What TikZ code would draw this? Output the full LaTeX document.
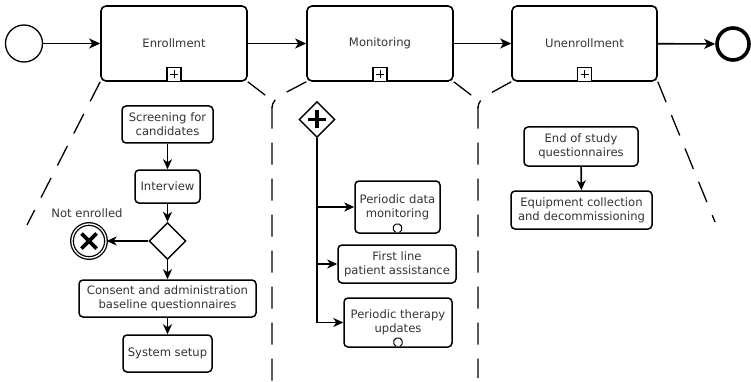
\documentclass[tikz,border=0pt]{standalone}
\usepackage{fontspec}
\setmainfont{DejaVu Sans}
\usetikzlibrary{arrows.meta,shapes.geometric}
\begin{document}
\begin{tikzpicture}[x=1pt,y=-1pt,
  txt/.style={font=\fontsize{11.6}{14}\selectfont, text=black!80},
  bigtask/.style={draw, line width=1.6pt, rounded corners=5pt, minimum width=146pt, minimum height=75pt, inner sep=0pt, txt},
  task/.style={draw, line width=1.5pt, rounded corners=4pt, align=center, inner sep=0pt, txt},
  marker/.style={draw, line width=1.1pt, minimum size=14pt, inner sep=0pt, anchor=south, fill=white},
  flow/.style={line width=1.6pt, -{Stealth[length=11pt,width=10pt,inset=3pt]}},
  sflow/.style={line width=1.6pt, -{Stealth[length=10pt,width=9pt,inset=3pt]}},
  expand/.style={line width=1.3pt, dash pattern=on 22pt off 14pt},
  thickcross/.style={line width=3.8pt},
]
\useasboundingbox (0,0) rectangle (751,382);

% top level process
\node[circle, draw, line width=1.3pt, minimum size=37pt, inner sep=0pt] (start) at (24,43.5) {};
\node[bigtask] (enr) at (174,43.5) {Enrollment};
\node[bigtask] (mon) at (380,43.5) {Monitoring};
\node[bigtask, minimum width=145pt] (unen) at (584.5,43.5) {Unenrollment};
\node[circle, draw, line width=3.6pt, minimum size=32pt, inner sep=0pt] (end) at (733,44) {};

\draw[flow] (start) -- (enr);
\draw[flow] (enr) -- (mon);
\draw[flow] (mon) -- (unen);
\draw[flow] (unen) -- (end);

% collapsed sub-process markers
\foreach \t in {enr,mon,unen}{
  \node[marker] (\t m) at (\t.south) {};
  \draw[line width=0.8pt] ([xshift=-4pt]\t m.center) -- ([xshift=4pt]\t m.center);
  \draw[line width=0.8pt] ([yshift=-4pt]\t m.center) -- ([yshift=4pt]\t m.center);
}

% expansion lines
\coordinate (eL) at (27,225);
\coordinate (v1) at (272,108);
\coordinate (v1b) at (272,382);
\coordinate (v2) at (478,108);
\coordinate (v2b) at (478,378);
\coordinate (uR) at (715,222);
\draw[expand] (enr.south west) -- (eL);
\draw[expand] (enr.south east) -- (265,95) .. controls (271,99) and (272,102) .. (v1) -- (v1b);
\draw[expand] (mon.south west) -- (283,94) .. controls (276,98) and (272,102) .. (v1);
\draw[expand] (mon.south east) -- (471,95) .. controls (477,99) and (478,102) .. (v2) -- (v2b);
\draw[expand] (unen.south west) -- (489,94) .. controls (482,98) and (478,102) .. (v2);
\draw[expand] (unen.south east) -- (uR);

% Enrollment detail
\node[task, minimum width=91pt, minimum height=37pt] (scr) at (167.5,124.5) {Screening for\\candidates};
\node[task, minimum width=65pt, minimum height=33pt] (int) at (167.5,186.5) {Interview};
\node[diamond, draw, line width=1.4pt, minimum width=37pt, minimum height=37pt, inner sep=0pt] (gw) at (167.5,241) {};
\node[circle, draw, line width=1.3pt, double=white, double distance=1.3pt, minimum size=34pt, inner sep=0pt] (err) at (89,241) {};
\draw[thickcross] ([shift={(-7.5pt,-7.5pt)}]err.center) -- ([shift={(7.5pt,7.5pt)}]err.center);
\draw[thickcross] ([shift={(-7.5pt,7.5pt)}]err.center) -- ([shift={(7.5pt,-7.5pt)}]err.center);
\node[txt] (ne) at (87,213) {Not enrolled};
\node[task, minimum width=177pt, minimum height=37pt] (cons) at (167.5,298.5) {Consent and administration\\baseline questionnaires};
\node[task, minimum width=89pt, minimum height=37pt] (sys) at (167.5,353.5) {System setup};

\draw[sflow] (scr) -- (int);
\draw[sflow] (int) -- (gw);
\draw[sflow] (gw) -- (err);
\draw[sflow] (gw) -- (cons);
\draw[sflow] (cons) -- (sys);

% Monitoring detail
\node[diamond, draw, line width=1.4pt, minimum width=36pt, minimum height=36pt, inner sep=0pt] (pg) at (317,119.5) {};
\draw[thickcross] ([xshift=-9pt]pg.center) -- ([xshift=9pt]pg.center);
\draw[thickcross] ([yshift=-9pt]pg.center) -- ([yshift=9pt]pg.center);
\node[task, minimum width=85pt, minimum height=52pt] (pdm) at (397.5,207) {Periodic data\\monitoring};
\node[task, minimum width=118pt, minimum height=38pt] (fla) at (397,264) {First line\\patient assistance};
\node[task, minimum width=108pt, minimum height=49pt] (ptu) at (398,322.5) {Periodic therapy\\updates};
\coordinate (b1) at (317,207);
\coordinate (b2) at (317,264);
\coordinate (b3) at (317,322.5);
\draw[line width=1.5pt] (pg.south) -- (b3);
\draw[sflow] (b1) -- (pdm.west);
\draw[sflow] (b2) -- (fla.west);
\draw[sflow] (b3) -- (ptu.west);
% loop markers
\foreach \t in {pdm,ptu}{
  \coordinate (\t l) at ([yshift=5.5pt]\t.south);
  \draw[line width=1pt] (\t l) ++(115:4.5) arc[start angle=115, end angle=425, radius=4.5];
}

% Unenrollment detail
\node[task, minimum width=114pt, minimum height=39pt] (eos) at (581,146.5) {End of study\\questionnaires};
\node[task, minimum width=141pt, minimum height=38pt] (eqc) at (581.5,210) {Equipment collection\\and decommissioning};
\draw[sflow] (eos) -- (eqc);
\end{tikzpicture}
\end{document}
